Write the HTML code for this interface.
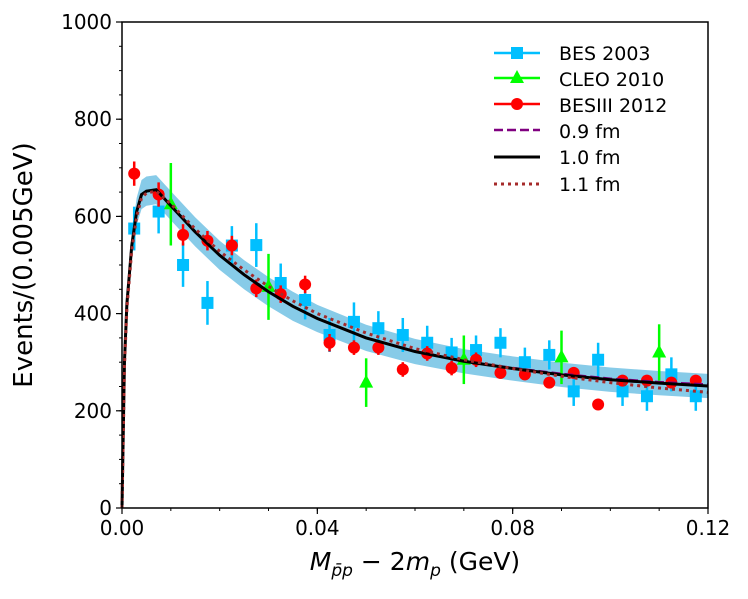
<!DOCTYPE html>
<html><head><meta charset="utf-8"><style>
body{margin:0;background:#fff}
svg text{font-family:"DejaVu Sans","Liberation Sans",sans-serif;fill:#000}
</style></head><body>
<svg id="c" width="748" height="594"></svg>
<script>
const xBins=[0.0025,0.0075,0.0125,0.0175,0.0225,0.0275,0.0325,0.0375,0.0425,0.0475,0.0525,0.0575,0.0625,0.0675,0.0725,0.0775,0.0825,0.0875,0.0925,0.0975,0.1025,0.1075,0.1125,0.1175];
const besVals=[575,610,500,422,540,541,463,428,356,383,370,356,340,320,325,340,300,315,240,305,240,230,275,230];
const besErr=[45,45,45,45,40,45,40,40,35,40,35,35,35,30,30,30,30,30,30,35,30,30,35,30];
const besiiiVals=[688,645,562,550,540,452,440,460,340,330,330,285,318,288,305,278,275,258,278,213,262,262,258,262];
const besiiiErr=[25,25,22,20,20,18,18,18,18,15,15,15,15,15,15,12,12,12,12,10,10,10,10,10];
const cleoX=[0.01,0.03,0.05,0.07,0.09,0.11];
const cleoVals=[625,455,258,305,310,320];
const cleoErr=[85,68,50,50,55,58];
const curveX=[0,0.0005,0.001,0.002,0.003,0.004,0.005,0.007,0.01,0.015,0.02,0.025,0.03,0.035,0.04,0.05,0.06,0.07,0.08,0.09,0.1,0.11,0.12];
const fit10=[0,300,420,540,610,645,652,655,622,568,520,480,445,415,390,350,322,302,287,274,264,257,251];
const fit09=[0,300,420,540,610,645,652,655,622,568,520,480,445,415,390,350,322,302,288,276,266,259,254];
const fit11=[0,290,410,530,600,638,648,652,626,574,528,490,456,426,400,360,328,305,287,271,258,247,238];
const bandW=[0,15,20,25,28,30,30,30,30,30,30,30,30,30,28,27,26,25,25,25,25,25,25];
const xTicks=[0,0.04,0.08,0.12];
const xTickLabels=["0.00","0.04","0.08","0.12"];
const yTicks=[0,200,400,600,800,1000];

const L=122,R=708,T=22,B=508;
const sx=v=>L+v/0.12*(R-L), sy=v=>B-v/1000*(B-T);
const svg=document.getElementById('c');const NS='http://www.w3.org/2000/svg';
function mk(t,a,p){const e=document.createElementNS(NS,t);for(const k in a)e.setAttribute(k,a[k]);(p||svg).appendChild(e);return e;}

let up=curveX.map((x,i)=>sx(x)+','+sy(fit10[i]+bandW[i])).join(' ');
let dn=curveX.map((x,i)=>sx(x)+','+sy(Math.max(0,fit10[i]-bandW[i]))).reverse().join(' ');
const band=mk('polygon',{points:up+' '+dn,fill:'#87cbe8'});



function errs(xs,vs,es,col,name){xs.forEach((x,i)=>{const l=mk('line',{x1:sx(x),x2:sx(x),y1:sy(vs[i]-es[i]),y2:sy(vs[i]+es[i]),stroke:col,'stroke-width':2.5});

});}
errs(xBins,besVals,besErr,'#00bfff','bes');
xBins.forEach((x,i)=>{const r=mk('rect',{x:sx(x)-6,y:sy(besVals[i])-6,width:12,height:12,fill:'#00bfff'});

});
errs(cleoX,cleoVals,cleoErr,'#00ff00','cleo');
cleoX.forEach((x,i)=>{const X=sx(x),Y=sy(cleoVals[i]);const p=mk('polygon',{points:`${X},${Y-8} ${X-7},${Y+5} ${X+7},${Y+5}`,fill:'#00ff00'});

});
errs(xBins,besiiiVals,besiiiErr,'#ff0000','besiii');
xBins.forEach((x,i)=>{const c=mk('circle',{cx:sx(x),cy:sy(besiiiVals[i]),r:6,fill:'#ff0000'});

});

function curve(vals,col,dash,name,w){const p=mk('polyline',{points:curveX.map((x,i)=>sx(x)+','+sy(vals[i])).join(' '),fill:'none',stroke:col,'stroke-width':w,'stroke-dasharray':dash});

}
curve(fit09,'#800080','9,4','fit-0.9fm',2.5);
curve(fit10,'#000','none','fit-1.0fm',3);
curve(fit11,'#a52a2a','3,4','fit-1.1fm',3);

const fr=mk('rect',{x:L,y:T,width:R-L,height:B-T,fill:'none',stroke:'#000','stroke-width':1.5});


xTicks.forEach((v,i)=>{mk('line',{x1:sx(v),x2:sx(v),y1:B,y2:B+6,stroke:'#000','stroke-width':1.2});
const t=mk('text',{x:sx(v),y:B+27,'text-anchor':'middle','font-size':20});t.textContent=xTickLabels[i];

});
for(let v=0;v<=0.1201;v+=0.01){mk('line',{x1:sx(v),x2:sx(v),y1:B,y2:B+3,stroke:'#000','stroke-width':1});}
yTicks.forEach(v=>{mk('line',{x1:L-6,x2:L,y1:sy(v),y2:sy(v),stroke:'#000','stroke-width':1.2});
const t=mk('text',{x:L-10,y:sy(v)+7,'text-anchor':'end','font-size':20});t.textContent=v;

});
for(let v=0;v<=1000;v+=50){mk('line',{x1:L-3,x2:L,y1:sy(v),y2:sy(v),stroke:'#000','stroke-width':1});}
</script>
<svg style="position:absolute;left:0;top:0" width="748" height="594">
<text x="32" y="265" font-size="26" text-anchor="middle" transform="rotate(-90 32 265)">Events/(0.005GeV)</text>
<text x="415" y="570" font-size="25" text-anchor="middle"><tspan font-style="italic">M</tspan><tspan font-size="17" dy="6" font-style="italic">p̄p</tspan><tspan dy="-6"> − 2</tspan><tspan font-style="italic">m</tspan><tspan font-size="17" dy="6" font-style="italic">p</tspan><tspan dy="-6"> (GeV)</tspan></text>
<g>
<line x1="494" x2="540" y1="53" y2="53" stroke="#00bfff" stroke-width="2.5"/><rect x="511" y="47" width="12" height="12" fill="#00bfff"/>
<text x="559" y="60" font-size="19">BES 2003</text>
<line x1="494" x2="540" y1="78" y2="78" stroke="#00ff00" stroke-width="2.5"/><polygon points="517,70 510,83 524,83" fill="#00ff00"/>
<text x="559" y="86" font-size="19">CLEO 2010</text>
<line x1="494" x2="540" y1="104" y2="104" stroke="#ff0000" stroke-width="2.5"/><circle cx="517" cy="104" r="6" fill="#ff0000"/>
<text x="559" y="112" font-size="19">BESIII 2012</text>
<line x1="494" x2="540" y1="130" y2="130" stroke="#800080" stroke-width="2.5" stroke-dasharray="9,4"/>
<text x="559" y="138" font-size="19">0.9 fm</text>
<line x1="494" x2="540" y1="157" y2="157" stroke="#000" stroke-width="3"/>
<text x="559" y="164" font-size="19">1.0 fm</text>
<line x1="494" x2="540" y1="184" y2="184" stroke="#a52a2a" stroke-width="3" stroke-dasharray="3,4"/>
<text x="559" y="191" font-size="19">1.1 fm</text>
</g>
</svg>
</body></html>
